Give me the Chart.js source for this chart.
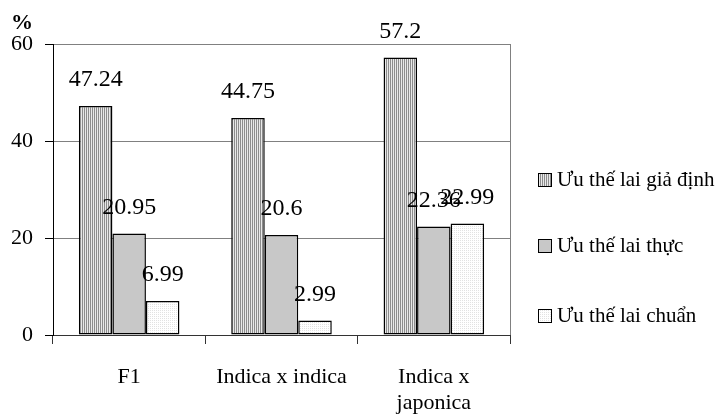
<!DOCTYPE html>
<html>
<head>
<meta charset="utf-8">
<script src="https://cdn.jsdelivr.net/npm/chart.js@4/dist/chart.umd.min.js"></script>
<style>
  html, body { margin: 0; padding: 0; background: #fff; }
  #wrap { width: 728px; height: 420px; }
</style>
</head>
<body>
<div id="wrap"><canvas id="c" width="728" height="420"></canvas></div>
<script>
// Categories, series and axis ticks
const categories = [["F1"], ["Indica x indica"], ["Indica x", "japonica"]];
const seriesNames = ["Ưu thế lai giả định", "Ưu thế lai thực", "Ưu thế lai chuẩn"];
const giaDinh = [47.24, 44.75, 57.2];
const thuc = [20.95, 20.6, 22.36];
const chuan = [6.99, 2.99, 22.99];
const yTicks = [0, 20, 40, 60];

const SERIF = '"Liberation Serif", "Times New Roman", serif';

// Fill patterns for the three series
function makePattern(w, h, paint) {
  const c = document.createElement('canvas');
  c.width = w; c.height = h;
  const g = c.getContext('2d');
  paint(g);
  return document.getElementById('c').getContext('2d').createPattern(c, 'repeat');
}
const stripes = makePattern(2, 2, g => {
  g.fillStyle = '#e8e8e8'; g.fillRect(0, 0, 2, 2);
  g.fillStyle = '#8c8c8c'; g.fillRect(0, 0, 1, 2);
});
const solidGray = '#c8c8c8';
const dots = makePattern(2, 2, g => {
  g.fillStyle = '#ffffff'; g.fillRect(0, 0, 2, 2);
  g.fillStyle = '#e2e2e2'; g.fillRect(0, 0, 1, 1);
});
const fills = [stripes, solidGray, dots];

// Value labels above each bar
const valueLabels = {
  id: 'valueLabels',
  afterDatasetsDraw(chart) {
    const ctx = chart.ctx;
    ctx.save();
    ctx.font = '24px ' + SERIF;
    ctx.fillStyle = '#000';
    ctx.textAlign = 'center';
    ctx.textBaseline = 'middle';
    chart.data.datasets.forEach((ds, i) => {
      chart.getDatasetMeta(i).data.forEach((bar, j) => {
        ctx.fillText(String(ds.data[j]), bar.x, bar.y - 26);
      });
    });
    ctx.restore();
  }
};

// Frame, unit label and side legend
const decorations = {
  id: 'decorations',
  afterDraw(chart) {
    const ctx = chart.ctx;
    const a = chart.chartArea;
    ctx.save();
    // right frame edge
    ctx.strokeStyle = '#808080';
    ctx.lineWidth = 1;
    ctx.beginPath();
    ctx.moveTo(a.right + 0.5, a.top);
    ctx.lineTo(a.right + 0.5, a.bottom);
    ctx.stroke();
    // unit
    ctx.fillStyle = '#000';
    ctx.font = 'bold 22px ' + SERIF;
    ctx.textAlign = 'center';
    ctx.textBaseline = 'middle';
    ctx.fillText('%', 22, 23);
    // legend
    const rows = [180, 246, 316];
    ctx.font = '21px ' + SERIF;
    ctx.textAlign = 'left';
    seriesNames.forEach((name, i) => {
      const y = rows[i];
      ctx.fillStyle = fills[i];
      ctx.fillRect(538.5, y - 6.5, 13, 13);
      ctx.strokeStyle = '#000';
      ctx.strokeRect(538.5, y - 6.5, 13, 13);
      ctx.fillStyle = '#000';
      ctx.fillText(name, 557, y);
    });
    ctx.restore();
  }
};

new Chart(document.getElementById('c'), {
  type: 'bar',
  data: {
    labels: categories,
    datasets: seriesNames.map((name, i) => ({
      label: name,
      data: [giaDinh, thuc, chuan][i],
      backgroundColor: fills[i],
      borderColor: '#000',
      borderWidth: 1.5,
      borderSkipped: false,
      categoryPercentage: 0.66,
      barPercentage: 1.0
    }))
  },
  options: {
    responsive: false,
    devicePixelRatio: 1,
    animation: false,
    layout: { padding: { left: 0, right: 218, top: 44, bottom: 0 } },
    plugins: { legend: { display: false }, tooltip: { enabled: false } },
    scales: {
      x: {
        afterFit(s) { s.height = 85; },
        border: { color: '#333', width: 1 },
        grid: { drawOnChartArea: false, drawTicks: true, tickLength: 9, offset: true, tickColor: '#333' },
        ticks: { color: '#000', font: { family: SERIF, size: 22 }, padding: 20, maxRotation: 0 }
      },
      y: {
        min: 0, max: 60,
        afterFit(s) { s.width = 53; },
        afterBuildTicks(s) { s.ticks = yTicks.map(v => ({ value: v })); },
        border: { color: '#000', width: 1 },
        grid: { color: '#808080', tickLength: 8, tickColor: '#000' },
        ticks: { color: '#000', font: { family: SERIF, size: 22 }, padding: 12 }
      }
    }
  },
  plugins: [valueLabels, decorations]
});
</script>
</body>
</html>
